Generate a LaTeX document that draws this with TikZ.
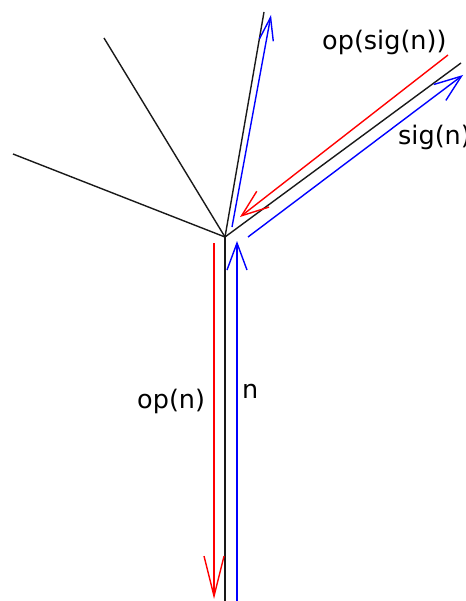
\documentclass[tikz,border=0pt]{standalone}
\usepackage{fontspec}
\setmainfont{DejaVu Sans}
\usetikzlibrary{arrows.meta}
\begin{document}
\begin{tikzpicture}[x=1bp,y=-1bp,
  edge/.style={line width=1.4bp,black!90},
  flow/.style={line width=1.4bp,-{Straight Barb[length=27bp,width=20bp,line width=1.4bp]}},
  lbl/.style={inner sep=0pt,anchor=base west,font=\fontsize{25.5bp}{30bp}\selectfont}]
\useasboundingbox (0,0) rectangle (466,601);
% black edges
\coordinate (C) at (225,237);
\coordinate (L1) at (13,154);
\coordinate (L2) at (104,38);
\coordinate (L3) at (264,12);
\coordinate (L4) at (461,63);
\coordinate (B) at (225,601);
\draw[edge] (C) -- (L1);
\draw[edge] (C) -- (L2);
\draw[edge] (C) -- (L3);
\draw[edge] (C) -- (L4);
\draw[edge] (C) -- (B);
% vertical pair
\coordinate (rs) at (214,243);
\coordinate (re) at (214,599);
\coordinate (bs) at (237,601);
\coordinate (be) at (237,241);
\draw[flow,red,-{Straight Barb[length=40bp,width=20bp,line width=1.4bp]}] (rs) -- (re);
\draw[flow,blue] (bs) -- (be);
% upper blue
\coordinate (us) at (232,227);
\coordinate (ue) at (271,15);
\draw[flow,blue,-{Straight Barb[length=23bp,width=14bp,line width=1.4bp]}] (us) -- (ue);
% right pair
\coordinate (rrs) at (448,55);
\coordinate (rre) at (240,217);
\coordinate (brs) at (248,237);
\coordinate (bre) at (463,75);
\draw[flow,red] (rrs) -- (rre);
\draw[flow,blue] (brs) -- (bre);
% labels
\node[lbl] (t1) at (322,50) {op(sig(n))};
\node[lbl] (t2) at (398,145) {sig(n)};
\node[lbl] (t3) at (137,408) {op(n)};
\node[lbl] (t4) at (242,398) {n};
\end{tikzpicture}
\end{document}
